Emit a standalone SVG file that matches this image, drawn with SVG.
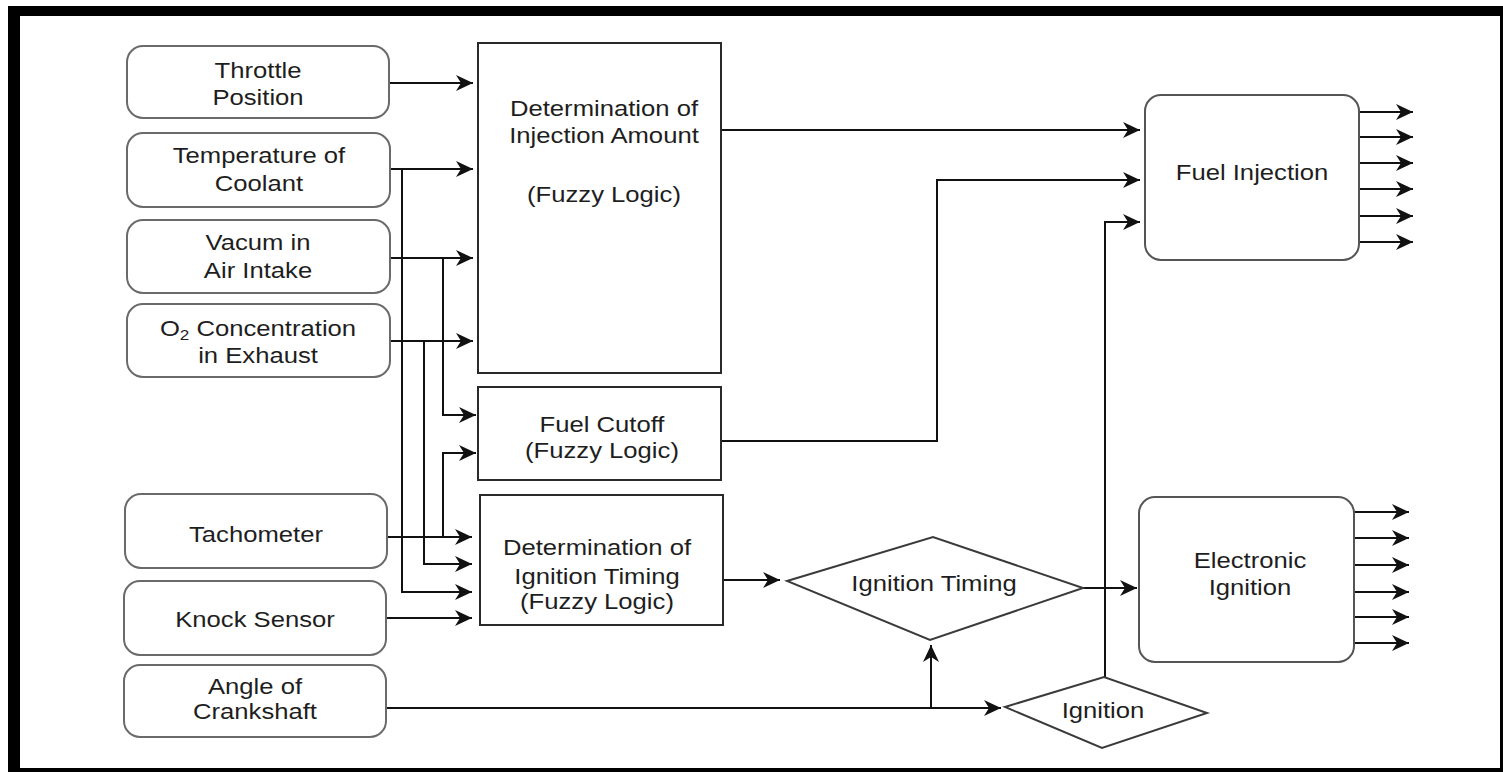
<svg xmlns="http://www.w3.org/2000/svg" width="1503" height="772" viewBox="0 0 1503 772">
<style>
.t{font-family:"Liberation Sans",Arial,sans-serif;font-size:22.5px;fill:#1e1e1e;text-anchor:middle}
.sensor{fill:#fff;stroke:#6a6a6a;stroke-width:2}
.blk{fill:#fff;stroke:#2a2a2a;stroke-width:2}
.out{fill:#fff;stroke:#555;stroke-width:2}
.dia{fill:#fff;stroke:#3a3a3a;stroke-width:2}
.c{fill:none;stroke:#111;stroke-width:2;marker-end:url(#arr)}
.cn{fill:none;stroke:#111;stroke-width:2}
</style>
<defs>
<marker id="arr" markerWidth="18" markerHeight="16" refX="17" refY="8" orient="auto" markerUnits="userSpaceOnUse">
<path d="M0,0 L17,8 L0,16 L5,8 Z" fill="#111"/>
</marker>
</defs>
<rect x="0" y="0" width="1503" height="772" fill="#fff"/>
<g id="frame" fill="#000">
<rect x="8" y="6" width="1495" height="10"/>
<rect x="8" y="6" width="12" height="766"/>
<rect x="1500" y="6" width="3" height="766"/>
<rect x="8" y="768" width="1495" height="4"/>
</g>
<g id="connectors">
<path class="c" d="M389,83 H473"/>
<path class="c" d="M390,169 H473"/>
<path class="c" d="M390,258 H473"/>
<path class="c" d="M390,341 H473"/>
<path class="c" d="M402,169 V592 H472"/>
<path class="c" d="M443,258 V415 H476"/>
<path class="c" d="M424,341 V564 H472"/>
<path class="c" d="M387,537 H472"/>
<path class="c" d="M443,537 V453 H476"/>
<path class="c" d="M386,618 H472"/>
<path class="c" d="M721,130 H1140"/>
<path class="c" d="M721,441 H937 V180 H1140"/>
<path class="c" d="M723,580 H780"/>
<path class="c" d="M1083,588 H1137"/>
<path class="c" d="M386,708 H1001"/>
<path class="c" d="M931,708 V645"/>
<path class="c" d="M1105,677 V222 H1140"/>
<path class="c" d="M1359,112 H1413"/>
<path class="c" d="M1359,137 H1413"/>
<path class="c" d="M1359,163 H1413"/>
<path class="c" d="M1359,189 H1413"/>
<path class="c" d="M1359,216 H1413"/>
<path class="c" d="M1359,242 H1413"/>
<path class="c" d="M1354,512 H1409"/>
<path class="c" d="M1354,538 H1409"/>
<path class="c" d="M1354,565 H1409"/>
<path class="c" d="M1354,592 H1409"/>
<path class="c" d="M1354,617 H1409"/>
<path class="c" d="M1354,643 H1409"/>
</g>
<g id="throttle">
<rect class="sensor" x="127" y="46" width="262" height="72" rx="16"/>
<text class="t" transform="translate(258,78) scale(1.14,1)">Throttle</text>
<text class="t" transform="translate(258,105) scale(1.14,1)">Position</text>
</g>
<g id="coolant">
<rect class="sensor" x="127" y="133" width="263" height="74" rx="16"/>
<text class="t" transform="translate(259,163) scale(1.14,1)">Temperature of</text>
<text class="t" transform="translate(259,191) scale(1.14,1)">Coolant</text>
</g>
<g id="vacuum">
<rect class="sensor" x="127" y="220" width="263" height="73" rx="16"/>
<text class="t" transform="translate(258,250) scale(1.14,1)">Vacum in</text>
<text class="t" transform="translate(258,278) scale(1.14,1)">Air Intake</text>
</g>
<g id="o2">
<rect class="sensor" x="127" y="304" width="263" height="73" rx="16"/>
<text class="t" transform="translate(258,336) scale(1.14,1)">O<tspan font-size="15" dy="4">2</tspan><tspan dy="-4"> Concentration</tspan></text>
<text class="t" transform="translate(258,363) scale(1.14,1)">in Exhaust</text>
</g>
<g id="tachometer">
<rect class="sensor" x="125" y="494" width="262" height="74" rx="16"/>
<text class="t" transform="translate(256,542) scale(1.14,1)">Tachometer</text>
</g>
<g id="knock">
<rect class="sensor" x="124" y="581" width="262" height="74" rx="16"/>
<text class="t" transform="translate(255,627) scale(1.14,1)">Knock Sensor</text>
</g>
<g id="angle">
<rect class="sensor" x="124" y="665" width="262" height="72" rx="16"/>
<text class="t" transform="translate(255,694) scale(1.14,1)">Angle of</text>
<text class="t" transform="translate(255,719) scale(1.14,1)">Crankshaft</text>
</g>
<g id="injection-amount">
<rect class="blk" x="478" y="43" width="243" height="330"/>
<text class="t" transform="translate(604,116) scale(1.14,1)">Determination of</text>
<text class="t" transform="translate(604,143) scale(1.14,1)">Injection Amount</text>
<text class="t" transform="translate(604,202) scale(1.14,1)">(Fuzzy Logic)</text>
</g>
<g id="fuel-cutoff">
<rect class="blk" x="478" y="387" width="243" height="93"/>
<text class="t" transform="translate(602,432) scale(1.14,1)">Fuel Cutoff</text>
<text class="t" transform="translate(602,458) scale(1.14,1)">(Fuzzy Logic)</text>
</g>
<g id="ignition-timing-det">
<rect class="blk" x="480" y="495" width="243" height="130"/>
<text class="t" transform="translate(597,555) scale(1.14,1)">Determination of</text>
<text class="t" transform="translate(597,584) scale(1.14,1)">Ignition Timing</text>
<text class="t" transform="translate(597,609) scale(1.14,1)">(Fuzzy Logic)</text>
</g>
<g id="fuel-injection">
<rect class="out" x="1145" y="95" width="214" height="165" rx="16"/>
<text class="t" transform="translate(1252,180) scale(1.14,1)">Fuel Injection</text>
</g>
<g id="electronic-ignition">
<rect class="out" x="1139" y="497" width="215" height="165" rx="16"/>
<text class="t" transform="translate(1250,568) scale(1.14,1)">Electronic</text>
<text class="t" transform="translate(1250,595) scale(1.14,1)">Ignition</text>
</g>
<g id="ignition-timing">
<polygon class="dia" points="787,581 933,537 1083,588 930,640"/>
<text class="t" transform="translate(934,591) scale(1.14,1)">Ignition Timing</text>
</g>
<g id="ignition">
<polygon class="dia" points="1005,707 1104,677 1207,713 1102,748"/>
<text class="t" transform="translate(1103,718) scale(1.14,1)">Ignition</text>
</g>
</svg>
